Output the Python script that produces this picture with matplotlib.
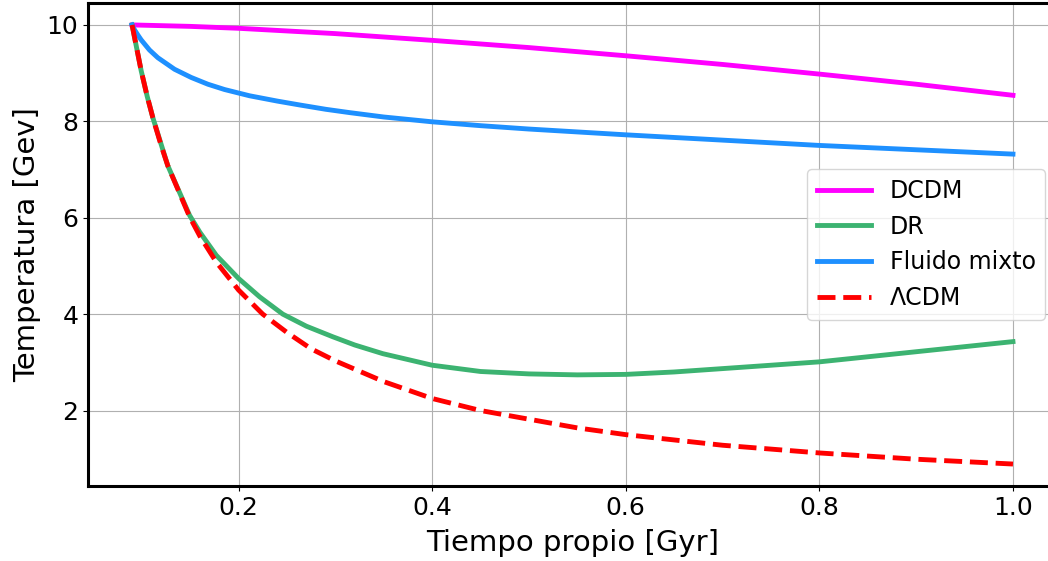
import matplotlib.pyplot as plt

# Tiempo propio [Gyr] y temperatura [GeV]
t_dcdm = [0.09, 0.15, 0.2, 0.3, 0.4, 0.5, 0.6, 0.7, 0.8, 0.9, 1.0]
T_dcdm = [10.0, 9.97, 9.93, 9.82, 9.68, 9.53, 9.36, 9.18, 8.98, 8.77, 8.54]

t_dr = [0.09, 0.0994, 0.1056, 0.1114, 0.1269, 0.1494, 0.16, 0.177, 0.2, 0.2217,
        0.2457, 0.27, 0.2974, 0.32, 0.349, 0.4, 0.45, 0.5, 0.55, 0.6,
        0.65, 0.7, 0.75, 0.8, 0.9, 1.0]
T_dr = [10.0, 9.05, 8.52, 8.08, 7.08, 6.05, 5.7, 5.22, 4.74, 4.36,
        4.0, 3.75, 3.53, 3.36, 3.18, 2.94, 2.81, 2.76, 2.74, 2.75,
        2.8, 2.87, 2.94, 3.01, 3.22, 3.43]

t_mixto = [0.09, 0.0925, 0.096, 0.0994, 0.108, 0.1166, 0.1339, 0.1511, 0.1683, 0.1855,
           0.2114, 0.24, 0.263, 0.29, 0.315, 0.35, 0.4, 0.45, 0.5, 0.6,
           0.7, 0.8, 0.9, 1.0]
T_mixto = [10.0, 9.9, 9.79, 9.69, 9.48, 9.32, 9.08, 8.91, 8.77, 8.66,
           8.53, 8.42, 8.34, 8.25, 8.18, 8.09, 7.99, 7.91, 7.84, 7.72,
           7.61, 7.5, 7.41, 7.32]

t_lcdm = [0.09, 0.0994, 0.1056, 0.1114, 0.12, 0.1269, 0.1494, 0.16, 0.177, 0.2,
          0.225, 0.25, 0.275, 0.3, 0.35, 0.4, 0.45, 0.5, 0.55, 0.6,
          0.7, 0.8, 0.9, 1.0]
T_lcdm = [10.0, 9.05, 8.52, 8.08, 7.5, 7.08, 6.02, 5.62, 5.08, 4.5,
          4.0, 3.62, 3.28, 3.03, 2.6, 2.25, 2.0, 1.82, 1.64, 1.5,
          1.28, 1.12, 0.99, 0.89]

fig = plt.figure(figsize=(10.48, 5.61), dpi=100)
# el eje derecho queda fuera de la imagen, como en la original
ax = fig.add_axes([0.084, 0.1337, 0.9246, 0.861])

ax.plot(t_dcdm, T_dcdm, color='magenta', lw=3.5, label='DCDM')
ax.plot(t_dr, T_dr, color='mediumseagreen', lw=3.5, label='DR')
ax.plot(t_mixto, T_mixto, color='dodgerblue', lw=3.5, label='Fluido mixto')
ax.plot(t_lcdm, T_lcdm, color='red', lw=3.5, ls='--', label='ΛCDM')

ax.set_xlabel('Tiempo propio [Gyr]', fontsize=21, labelpad=7)
ax.set_ylabel('Temperatura [Gev]', fontsize=21)
ax.tick_params(labelsize=18)
ax.grid(True)
for s in ax.spines.values():
    s.set_linewidth(2.2)
ax.legend(loc='center right', fontsize=17, handlelength=2.3)

fig.savefig('out.png', dpi=100)
